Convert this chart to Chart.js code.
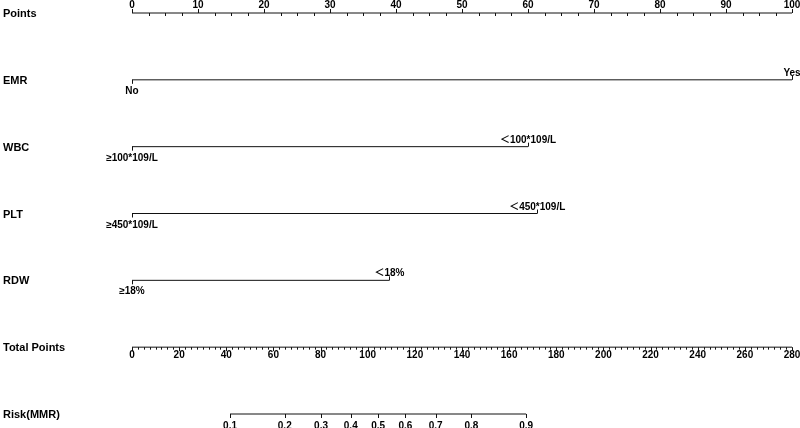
<!DOCTYPE html>
<html>
<head>
<meta charset="utf-8">
<script src="https://cdn.jsdelivr.net/npm/chart.js@4"></script>
<style>
html, body { margin: 0; padding: 0; background: #fff; }
</style>
</head>
<body>
<canvas id="nomogram" width="800" height="428"></canvas>
<script>
'use strict';

// rows of the nomogram, top to bottom
const rowNames = ['Points', 'EMR', 'WBC', 'PLT', 'RDW', 'Total Points', 'Risk(MMR)'];

// points scale
const pointTicks = [0, 10, 20, 30, 40, 50, 60, 70, 80, 90, 100];
const pointMinorStep = 2.5;

// predictors: label at 0 points and label at their max points
const variables = ['EMR', 'WBC', 'PLT', 'RDW'];
const lowLabels = ['No', '≥100*109/L', '≥450*109/L', '≥18%'];
const highLabels = ['Yes', '＜100*109/L', '＜450*109/L', '＜18%'];
const highPoints = [100, 60, 61.4, 39];

// total points scale
const totalTicks = [0, 20, 40, 60, 80, 100, 120, 140, 160, 180, 200, 220, 240, 260, 280];
const totalMinorStep = 2.5;

// risk scale, read as total points where each risk sits
const riskTicks = [0.1, 0.2, 0.3, 0.4, 0.5, 0.6, 0.7, 0.8, 0.9];
const riskTotalPoints = [41.6, 64.8, 80.2, 92.8, 104.4, 116.0, 128.8, 144.0, 167.2];

const lineColor = '#111';
const textFont = '"Liberation Sans", Arial, "Noto Sans CJK SC", sans-serif';

function lineSet(xs, row, axisId) {
  return {
    data: xs.map(v => ({ x: v, y: row })),
    xAxisID: axisId,
    showLine: true,
    borderColor: lineColor,
    borderWidth: 1,
    pointRadius: 0,
    clip: false
  };
}

const datasets = [lineSet([0, 100], 0, 'x')];
for (let i = 0; i < variables.length; i++) {
  datasets.push(lineSet([0, highPoints[i]], i + 1, 'x'));
}
datasets.push(lineSet([totalTicks[0], totalTicks[totalTicks.length - 1]], 5, 'xt'));
datasets.push(lineSet([riskTotalPoints[0], riskTotalPoints[riskTotalPoints.length - 1]], 6, 'xt'));

// ticks and texts, placed through the chart's scales
const nomogramMarks = {
  id: 'nomogramMarks',
  afterDatasetsDraw(chart) {
    const ctx = chart.ctx;
    const sx = chart.scales.x;
    const st = chart.scales.xt;
    const sy = chart.scales.y;

    function tick(px, y0, y1) {
      const xx = Math.round(px) + 0.5;
      ctx.beginPath();
      ctx.moveTo(xx, y0);
      ctx.lineTo(xx, y1);
      ctx.stroke();
    }
    function label(text, px, py) {
      ctx.fillText(text, px, py);
    }

    ctx.save();
    ctx.strokeStyle = lineColor;
    ctx.lineWidth = 1;
    ctx.fillStyle = '#000';

    // row names
    ctx.font = 'bold 11px ' + textFont;
    ctx.textAlign = 'left';
    ctx.textBaseline = 'middle';
    for (let i = 0; i < rowNames.length; i++) {
      label(rowNames[i], 3, sy.getPixelForValue(i) + 1);
    }

    ctx.font = 'bold 10px ' + textFont;
    ctx.textAlign = 'center';
    ctx.textBaseline = 'alphabetic';

    // points axis
    let ry = sy.getPixelForValue(0);
    for (let v = 0; v <= 100; v += pointMinorStep) {
      if (v % 10 !== 0) tick(sx.getPixelForValue(v), ry, ry + 3);
    }
    for (let i = 0; i < pointTicks.length; i++) {
      const px = sx.getPixelForValue(pointTicks[i]);
      tick(px, ry, ry - 4);
      label(String(pointTicks[i]), px, ry - 5);
    }

    // predictors
    for (let i = 0; i < variables.length; i++) {
      ry = sy.getPixelForValue(i + 1);
      const p0 = sx.getPixelForValue(0);
      const p1 = sx.getPixelForValue(highPoints[i]);
      tick(p0, ry, ry + 4);
      label(lowLabels[i], p0, ry + 14);
      tick(p1, ry, ry - 4);
      label(highLabels[i], p1, ry - 4);
    }

    // total points axis
    ry = sy.getPixelForValue(5);
    for (let v = 0; v <= 280; v += totalMinorStep) {
      if (v % 20 !== 0) tick(st.getPixelForValue(v), ry, ry + 2.5);
    }
    for (let i = 0; i < totalTicks.length; i++) {
      const px = st.getPixelForValue(totalTicks[i]);
      tick(px, ry, ry + 4);
      label(String(totalTicks[i]), px, ry + 11);
    }

    // risk axis
    ry = sy.getPixelForValue(6);
    for (let i = 0; i < riskTicks.length; i++) {
      const px = st.getPixelForValue(riskTotalPoints[i]);
      tick(px, ry, ry + 4);
      label(String(riskTicks[i]), px, ry + 15);
    }

    ctx.restore();
  }
};

new Chart(document.getElementById('nomogram'), {
  type: 'scatter',
  data: { datasets: datasets },
  options: {
    responsive: false,
    devicePixelRatio: 1,
    animation: false,
    layout: { padding: { left: 132, right: 8, top: 13, bottom: 14 } },
    plugins: {
      legend: { display: false },
      tooltip: { enabled: false }
    },
    scales: {
      x: { type: 'linear', min: 0, max: 100, display: false },
      xt: { type: 'linear', axis: 'x', min: 0, max: 280, display: false },
      y: { type: 'linear', min: 0, max: 6, reverse: true, display: false }
    }
  },
  plugins: [nomogramMarks]
});
</script>
</body>
</html>
